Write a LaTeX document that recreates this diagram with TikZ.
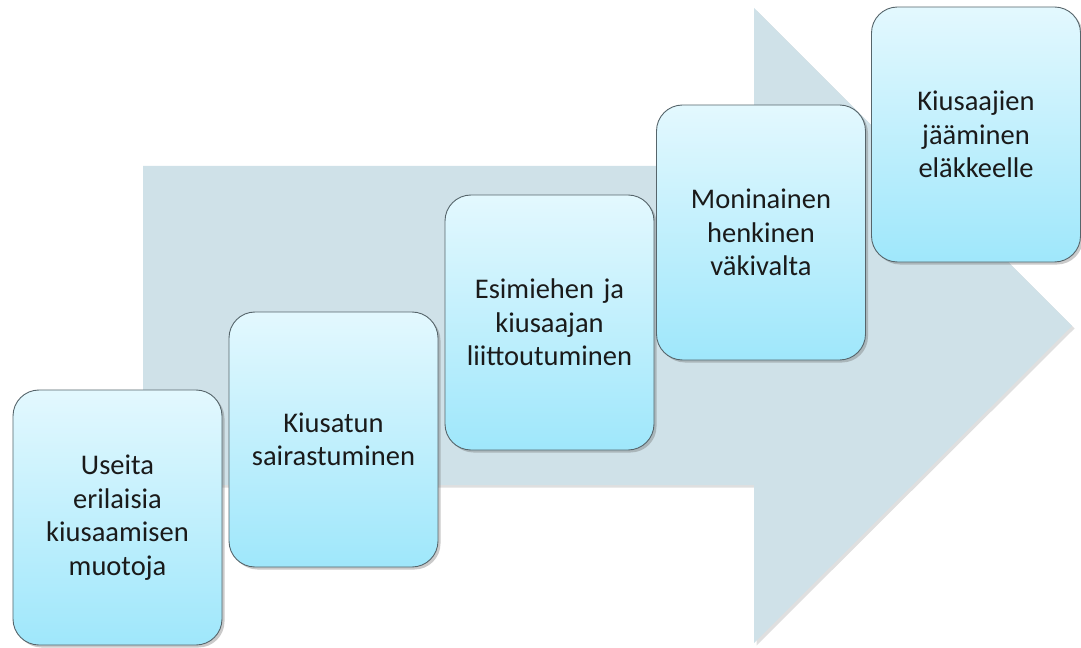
\documentclass[tikz,border=0pt]{standalone}
\usepackage{fontspec}
\setmainfont{Carlito}
\usetikzlibrary{shadows}
\definecolor{arrowfill}{HTML}{CFE1E8}
\definecolor{boxtop}{HTML}{E3F8FE}
\definecolor{boxbottom}{HTML}{9FE7FB}
\definecolor{boxline}{HTML}{56656B}
\definecolor{ink}{HTML}{1A1A1A}
\tikzset{
  stage/.style={
    draw=boxline, line width=0.9bp, rounded corners=26bp,
    top color=boxtop, bottom color=boxbottom,
    minimum width=209bp, minimum height=255bp,
    text width=205bp, align=center, inner sep=0pt,
    text=ink, font=\fontsize{28.5bp}{33.5bp}\selectfont,
    drop shadow={shadow xshift=2.5bp, shadow yshift=-2.5bp, opacity=0.35, fill=black!60}
  },
  bigarrow/.style={
    fill=arrowfill,
    drop shadow={shadow xshift=2.5bp, shadow yshift=-2.5bp, opacity=0.25, fill=black!50}
  }
}
\begin{document}
\begin{tikzpicture}[x=1bp,y=-1bp]
  \useasboundingbox (0,0) rectangle (1081,648);
  % wide background arrow
  \path[bigarrow] (143,166) -- (754,166) -- (754,8) -- (1072,326)
    -- (754,643) -- (754,485) -- (143,485) -- cycle;
  % stages, lower left to upper right
  \node[stage] (s1) at (117.5,517.5) {Useita\\erilaisia\\kiusaamisen\\muotoja};
  \node[stage] (s2) at (333.5,439.5) {Kiusatun\\sairastuminen};
  \node[stage] (s3) at (549.5,322.5) {Esimiehen ja\\kiusaajan\\liittoutuminen};
  \node[stage] (s4) at (761,232.5) {Moninainen\\henkinen\\väkivalta};
  \node[stage] (s5) at (976,134.5) {Kiusaajien\\jääminen\\eläkkeelle};
\end{tikzpicture}
\end{document}
